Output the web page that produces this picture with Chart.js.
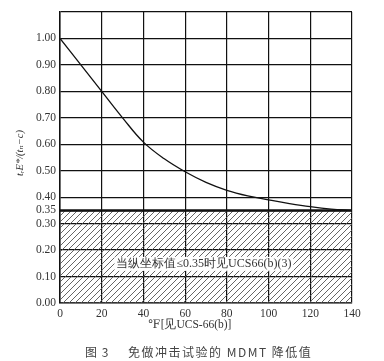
<!DOCTYPE html>
<html lang="zh">
<head>
<meta charset="UTF-8">
<title>MDMT 降低值</title>
<script src="https://cdn.jsdelivr.net/npm/chart.js"></script>
<style>
  html, body { margin: 0; padding: 0; background: #fff; }
  #wrap { width: 384px; height: 361px; }
</style>
</head>
<body>
<div id="wrap"><canvas id="myChart" width="384" height="361"></canvas></div>
<script>
// curve
const tempReduction = [0, 10, 20, 30, 40, 50, 60, 70, 80, 90, 100, 110, 120, 130, 140];
const ratioValues = [1.00, 0.90, 0.80, 0.70, 0.608, 0.545, 0.496, 0.456, 0.426, 0.405, 0.39, 0.376, 0.364, 0.355, 0.35];

const yTickValues = [0, 0.1, 0.2, 0.3, 0.35, 0.4, 0.5, 0.6, 0.7, 0.8, 0.9, 1.0, 1.1];
const xTickValues = [0, 20, 40, 60, 80, 100, 120, 140];
const limitValue = 0.35;

const noteText = '当纵坐标值≤0.35时见UCS66(b)(3)';
const notePos = { x: 69, y: 0.148 };
const xTitle = '℉[见UCS-66(b)]';
const yTitle = 'tᵣE*/(tₙ−c)';
const captionNo = '图 3';
const captionText = '免做冲击试验的 MDMT 降低值';

// diagonal hatch pattern
function makeHatch() {
    const c = document.createElement('canvas');
    c.width = 6; c.height = 6;
    const g = c.getContext('2d');
    g.strokeStyle = '#555';
    g.lineWidth = 0.9;
    g.beginPath();
    g.moveTo(0, 6); g.lineTo(6, 0);
    g.moveTo(-3, 3); g.lineTo(3, -3);
    g.moveTo(3, 9); g.lineTo(9, 3);
    g.stroke();
    return g.createPattern(c, 'repeat');
}

const serif = '"Liberation Serif", "DejaVu Serif", serif';

const textPlugin = {
    id: 'texts',
    afterDatasetsDraw(chart) {
        const ctx = chart.ctx;
        const xs = chart.scales.x, ys = chart.scales.y;
        ctx.save();
        // note box
        ctx.font = '12px ' + serif;
        const px = xs.getPixelForValue(notePos.x);
        const py = ys.getPixelForValue(notePos.y);
        const w = ctx.measureText(noteText).width;
        ctx.fillStyle = '#fff';
        ctx.fillRect(px - w / 2 - 2, py - 7, w + 4, 14);
        ctx.fillStyle = '#333';
        ctx.textAlign = 'center';
        ctx.textBaseline = 'middle';
        ctx.fillText(noteText, px, py);

        // x title
        ctx.font = '11.5px ' + serif;
        ctx.fillText(xTitle, 190, 325);

        // y title
        ctx.save();
        ctx.translate(20, 153);
        ctx.rotate(-Math.PI / 2);
        ctx.font = 'italic 10.5px ' + serif;
        ctx.fillText(yTitle, 0, 0);
        ctx.restore();

        // caption
        ctx.font = '12px "Noto Sans CJK SC", "Noto Sans", sans-serif';
        ctx.fillStyle = '#444';
        ctx.textAlign = 'left';
        ctx.letterSpacing = '1px';
        ctx.fillText(captionNo, 85, 352);
        ctx.letterSpacing = '1.5px';
        ctx.fillText(captionText, 128, 352);
        ctx.restore();
    }
};

const ctx = document.getElementById('myChart').getContext('2d');
new Chart(ctx, {
    type: 'line',
    data: {
        datasets: [
            {
                data: tempReduction.map((t, i) => ({ x: t, y: ratioValues[i] })),
                borderColor: '#111',
                borderWidth: 1.3,
                pointRadius: 0,
                tension: 0.4,
                fill: false
            },
            {
                data: [{ x: 0, y: limitValue }, { x: 140, y: limitValue }],
                borderColor: '#111',
                borderWidth: 2.5,
                pointRadius: 0,
                backgroundColor: makeHatch(),
                fill: 'origin'
            }
        ]
    },
    options: {
        responsive: false,
        animation: false,
        layout: { padding: { left: 0, top: 12, right: 32, bottom: 0 } },
        plugins: {
            legend: { display: false },
            tooltip: { enabled: false }
        },
        scales: {
            x: {
                type: 'linear',
                min: 0,
                max: 140,
                afterFit: s => { s.height = 58; },
                afterBuildTicks: s => { s.ticks = xTickValues.map(v => ({ value: v })); },
                grid: { color: '#111', lineWidth: 1.2, drawTicks: false },
                border: { color: '#333', width: 1.5 },
                ticks: {
                    padding: 4,
                    color: '#333',
                    font: { family: serif, size: 11.5 },
                    maxRotation: 0
                }
            },
            y: {
                type: 'linear',
                min: 0,
                max: 1.1,
                afterFit: s => { s.width = 60; },
                afterBuildTicks: s => { s.ticks = yTickValues.map(v => ({ value: v })); },
                grid: { color: '#111', lineWidth: 1.2, drawTicks: false },
                border: { color: '#111', width: 1.5 },
                ticks: {
                    padding: 4,
                    color: '#333',
                    font: { family: serif, size: 11.5 },
                    callback: v => (v > 1.05 ? '' : v.toFixed(2))
                }
            }
        }
    },
    plugins: [textPlugin]
});
</script>
</body>
</html>
